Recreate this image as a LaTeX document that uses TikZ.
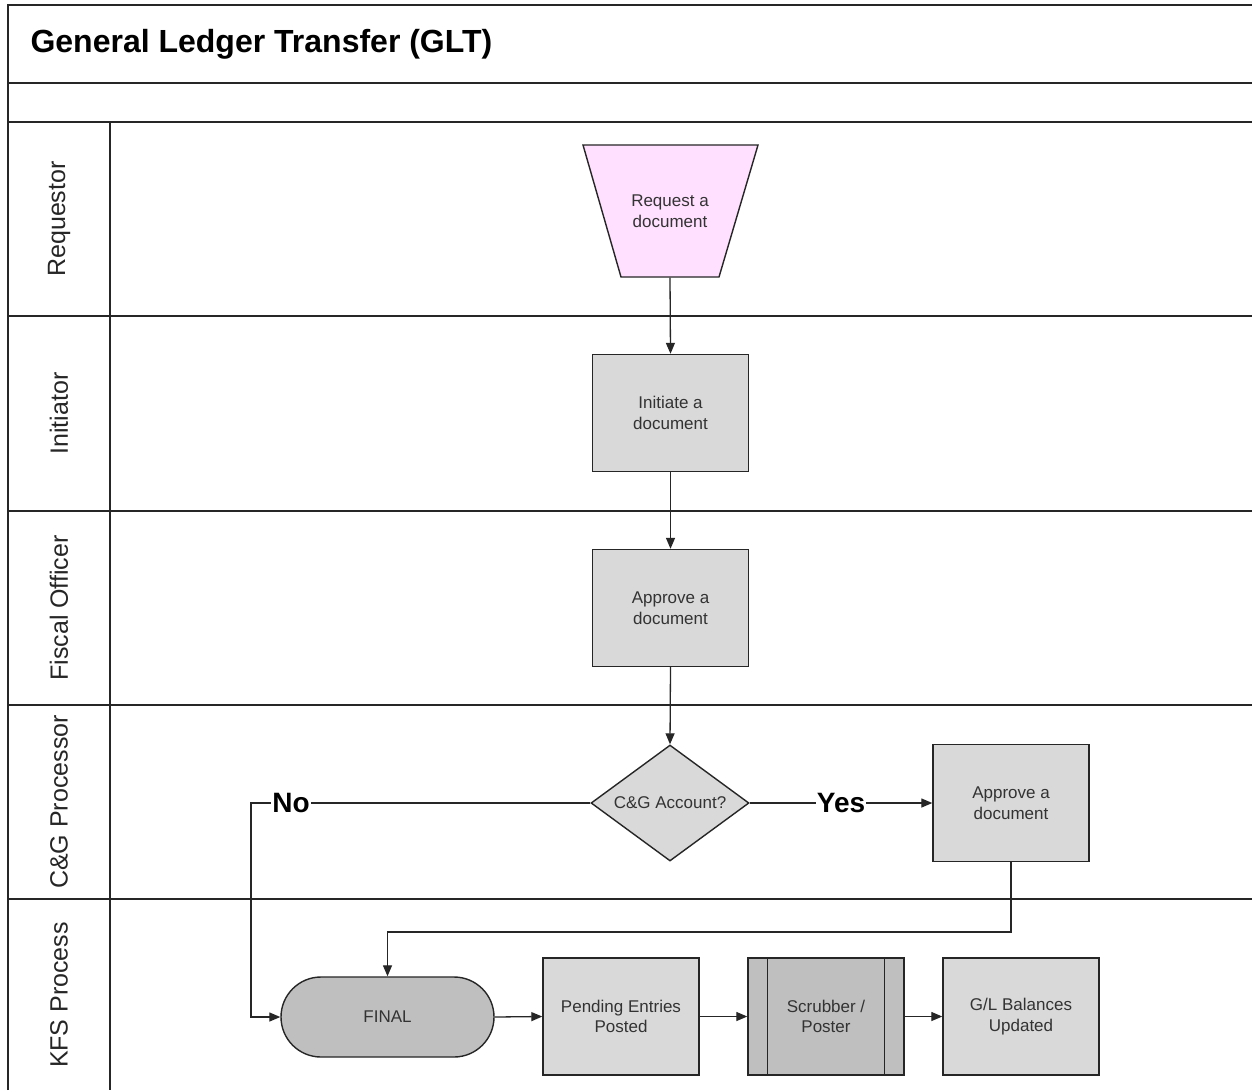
\documentclass[tikz,border=0pt]{standalone}
\usepackage{fontspec}
\setmainfont{Liberation Sans}
\usetikzlibrary{arrows.meta,shapes.geometric}
\definecolor{boxgray}{HTML}{D9D9D9}
\definecolor{darkgray2}{HTML}{BFBFBF}
\definecolor{pinkfill}{HTML}{FFE0FF}
\definecolor{framec}{HTML}{262626}
\definecolor{txtc}{HTML}{333333}
\begin{document}
\begin{tikzpicture}[x=1pt,y=-1pt,
  lane/.style={line width=1.8pt, draw=framec},
  shapebase/.style={draw=framec, line width=1.4pt, align=center, text=txtc,
    font=\fontsize{17}{20.5}\selectfont, inner sep=0pt},
  box/.style={shapebase, fill=boxgray, minimum width=156, minimum height=117},
  arr/.style={-{Triangle[length=11pt,width=9pt]}, line width=1.3pt, draw=framec},
  conn/.style={line width=1.3pt, draw=framec},
  lanelabel/.style={rotate=90, font=\fontsize{25}{30}\selectfont, text=black!85},
  decision/.style={font=\bfseries\fontsize{28}{32}\selectfont, fill=white, inner sep=1pt}
]
% canvas
\path[fill=white] (0,0) rectangle (1252,1090);
\useasboundingbox (0,0) rectangle (1252,1090);

% frame and lanes
\draw[lane] (8,1090) -- (8,5) -- (1252,5);
\foreach \yy in {83,122,316,511,705,899} \draw[lane] (8,\yy) -- (1252,\yy);
\draw[lane] (110,122) -- (110,1090);

\node[anchor=west, font=\bfseries\fontsize{32}{36}\selectfont] (title) at (27,44) {General Ledger Transfer (GLT)};

\node[lanelabel] (l1) at (59,219) {Requestor};
\node[lanelabel] (l2) at (59,413.5) {Initiator};
\node[lanelabel] (l3) at (59,608) {Fiscal Officer};
\node[lanelabel] (l4) at (59,802) {C\&G Processor};
\node[lanelabel] (l5) at (59,995) {KFS Process};

% shapes
\draw[draw=framec, line width=1.4pt, fill=pinkfill] (583,145) -- (758,145) -- (719,277) -- (621,277) -- cycle;
\node[shapebase, draw=none, minimum width=98, minimum height=132] (req) at (670,211) {Request a\\document};

\node[box] (init) at (670.5,413) {Initiate a\\document};
\node[box] (appr) at (670.5,608) {Approve a\\document};
\node[shapebase, diamond, fill=boxgray, aspect=1.36, minimum width=158, minimum height=116] (dec) at (670,803) {C\&G Account?};
\node[box] (cg) at (1011,803) {Approve a\\document};
\node[shapebase, fill=darkgray2, rounded corners=40, minimum width=213, minimum height=80] (final) at (387.5,1017) {FINAL};
\node[box] (pend) at (621,1016.5) {Pending Entries\\Posted};
\node[box, fill=darkgray2] (scrub) at (826,1016.5) {Scrubber /\\Poster};
\draw[conn, line width=1.4pt] ([xshift=20]scrub.north west) -- ([xshift=20]scrub.south west);
\draw[conn, line width=1.4pt] ([xshift=-20]scrub.north east) -- ([xshift=-20]scrub.south east);
\node[box] (gl) at (1021,1016.5) {G/L Balances\\Updated};

% connectors
\draw[arr] (req.south) -- (init.north);
\draw[arr] (init.south) -- (appr.north);
\draw[arr] (appr.south) -- (dec.north);
\draw[arr] (dec.east) -- node[decision, pos=0.5] (yes) {Yes} (cg.west);
\coordinate (nocorner) at (251,803);
\draw[arr] (dec.west) -- node[decision, pos=0.882] (no) {No} (nocorner) |- (final.west);
\coordinate (cgbend) at (1011,932);
\draw[arr] (cg.south) -- (cgbend) -| (final.north);
\draw[arr] (final.east) -- (pend.west);
\draw[arr] (pend.east) -- (scrub.west);
\draw[arr] (scrub.east) -- (gl.west);
\end{tikzpicture}
\end{document}
